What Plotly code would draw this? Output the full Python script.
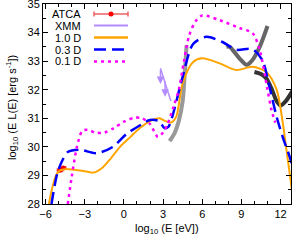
import plotly.graph_objects as go

# ---- data (log10 E [eV], log10 E L(E) [erg/s]) ----
atca_x = [-4.9, -4.65]
atca_y = [29.18, 29.26]
atca_xerr = [0.2, 0.2]

xmm_x = [2.8, 3.2, 3.6]
xmm_y = [32.75, 32.2, 31.6]
xmm_ul_x = [2.8, 3.15]
xmm_ul_top = [32.75, 32.35]
xmm_ul_bot = [32.2, 31.75]

d10_x = [-5.75, -5.5, -5.2, -4.9, -4.5, -3.8, -3.0, -2.3, -1.7, -1.0, -0.3, 0.5, 1.2, 2.0, 2.7,
         3.2, 3.6, 4.0, 4.5, 5.3, 6.0, 7.3, 8.6, 9.85, 10.9, 11.7, 12.15, 12.45, 12.8, 12.95]
d10_y = [28.0, 28.55, 29.0, 29.18, 29.22, 29.2, 29.15, 29.1, 29.25, 29.6, 30.0, 30.35, 30.65, 30.9, 31.0,
         30.9, 30.85, 31.05, 32.23, 32.97, 33.1, 32.93, 32.69, 32.8, 32.62, 32.0, 30.9, 29.9, 28.73, 28.2]

d03_x = [-5.55, -5.1, -4.7, -4.3, -3.4, -2.1, -0.85, 0.2, 1.4, 2.0, 2.7, 3.1, 3.4, 3.7, 4.5, 5.3,
         6.3, 7.55, 8.6, 9.85, 10.6, 11.15, 11.7, 12.2, 12.7, 13.1]
d03_y = [28.0, 29.08, 29.54, 29.82, 29.9, 29.78, 30.0, 30.45, 30.8, 30.94, 30.9, 30.66, 30.7, 31.05, 32.45, 33.6,
         33.85, 33.67, 33.4, 33.42, 33.04, 32.1, 31.05, 30.3, 29.65, 29.0]

d01_x = [-4.3, -4.0, -3.6, -3.2, -2.8, -2.2, -1.5, -0.8, 0.0, 0.8, 1.4, 2.0, 2.6, 3.0, 3.35, 3.8,
         4.2, 4.6, 5.0, 5.5, 6.0, 7.3, 8.85, 9.85, 10.4, 11.0, 11.3, 11.6]
d01_y = [28.0, 28.95, 30.0, 30.55, 30.6, 30.5, 30.5, 30.65, 30.88, 31.02, 31.0, 30.8, 30.35, 30.5, 30.8, 31.4,
         32.0, 33.0, 33.9, 34.4, 34.6, 34.44, 34.16, 33.98, 33.39, 32.0, 31.3, 30.85]

g1_x = [3.5, 3.9, 4.2, 4.5, 4.65, 4.8]
g1_y = [30.2, 30.5, 30.9, 31.6, 32.5, 33.55]

g2_x = [7.85, 8.1, 8.85, 9.4, 9.85, 10.4, 11.0]
g2_y = [33.5, 33.5, 33.1, 32.87, 33.04, 33.5, 34.23]

g3_x = [10.0, 10.5, 10.9, 11.3, 11.7, 12.0, 12.4, 12.9]
g3_y = [32.62, 32.55, 32.4, 32.05, 31.6, 31.45, 31.6, 31.95]

legend_labels = ["ATCA", "XMM", "1.0 D", "0.3 D", "0.1 D"]

x_ticks = [-6, -3, 0, 3, 6, 9, 12]
y_ticks = [28, 29, 30, 31, 32, 33, 34, 35]

# ---- styles ----
C_ATCA = "#FF0000"
C_ATCA_BAR = "#F06060"
C_XMM = "#B48CFF"
C_10 = "#FFA500"
C_03 = "#0000FF"
C_01 = "#FF00FF"

W, H = 294, 241
ML, MR, MT, MB = 43, 3, 4, 37
PW, PH = W - ML - MR, H - MT - MB

fig = go.Figure()

fig.add_trace(go.Scatter(x=g1_x, y=g1_y, mode="lines", line=dict(color="#999999", width=4, shape="spline", smoothing=0.8), showlegend=False))
fig.add_trace(go.Scatter(x=g2_x, y=g2_y, mode="lines", line=dict(color="#666666", width=4, shape="spline", smoothing=0.8), showlegend=False))
fig.add_trace(go.Scatter(x=g3_x, y=g3_y, mode="lines", line=dict(color="#333333", width=4, shape="spline", smoothing=0.8), showlegend=False))

fig.add_trace(go.Scatter(x=atca_x, y=atca_y, mode="markers",
                         marker=dict(color=C_ATCA, size=5),
                         error_x=dict(type="data", array=atca_xerr, color=C_ATCA_BAR, thickness=1.5, width=2),
                         showlegend=False))
fig.add_trace(go.Scatter(x=xmm_x, y=xmm_y, mode="lines", line=dict(color=C_XMM, width=1.5), showlegend=False))

fig.add_trace(go.Scatter(x=d10_x, y=d10_y, mode="lines", line=dict(color=C_10, width=2, shape="spline", smoothing=0.8), showlegend=False))
fig.add_trace(go.Scatter(x=d03_x, y=d03_y, mode="lines", line=dict(color=C_03, width=2.5, dash="12px,6px", shape="spline", smoothing=0.8), showlegend=False))
fig.add_trace(go.Scatter(x=d01_x, y=d01_y, mode="lines", line=dict(color=C_01, width=2.5, dash="3px,4px", shape="spline", smoothing=0.8), showlegend=False))

annotations = []
for x, yt, yb in zip(xmm_ul_x, xmm_ul_top, xmm_ul_bot):
    annotations.append(dict(x=x, y=yb, ax=x, ay=yt, xref="x", yref="y", axref="x", ayref="y",
                            showarrow=True, arrowhead=2, arrowsize=1, arrowwidth=1.5,
                            arrowcolor=C_XMM, text=""))

def px2x(px):
    return (px - ML) / PW

def py2y(py):
    return (MT + PH - py) / PH

rows_py = [14, 25.5, 37.5, 49.5, 61.5]
text_right = 83
s0, s1 = 94, 128
shapes = []
for lab, py in zip(legend_labels, rows_py):
    annotations.append(dict(x=px2x(text_right), y=py2y(py), xref="paper", yref="paper",
                            text=lab, showarrow=False, xanchor="right", yanchor="middle",
                            font=dict(size=11, color="black")))

# axis titles
annotations.append(dict(x=px2x(167), y=py2y(229), xref="paper", yref="paper", showarrow=False,
                        text="log<sub>10</sub> (E [eV])", xanchor="center", yanchor="middle",
                        font=dict(size=11, color="black")))
annotations.append(dict(x=px2x(12), y=py2y(108), xref="paper", yref="paper", showarrow=False,
                        text="log<sub>10</sub> (E L(E) [erg s<sup>-1</sup>])", textangle=-90,
                        xanchor="center", yanchor="middle", font=dict(size=11, color="black")))

# legend samples
py = rows_py[0]
shapes.append(dict(type="line", xref="paper", yref="paper", x0=px2x(s0), x1=px2x(s1), y0=py2y(py), y1=py2y(py),
                   line=dict(color=C_ATCA_BAR, width=1.5)))
for sx in (s0, s1):
    shapes.append(dict(type="line", xref="paper", yref="paper", x0=px2x(sx), x1=px2x(sx), y0=py2y(py - 2.5), y1=py2y(py + 2.5),
                       line=dict(color=C_ATCA_BAR, width=1.5)))
cx = (s0 + s1) / 2
shapes.append(dict(type="circle", xref="paper", yref="paper", x0=px2x(cx - 2.5), x1=px2x(cx + 2.5),
                   y0=py2y(py + 2.5), y1=py2y(py - 2.5), fillcolor=C_ATCA, line=dict(color=C_ATCA, width=0)))
sample_styles = [(C_XMM, 2, "solid"), (C_10, 2.5, "solid"), (C_03, 2.5, "12px,6px"), (C_01, 2.5, "3px,4px")]
for (col, wd, ds), py in zip(sample_styles, rows_py[1:]):
    shapes.append(dict(type="line", xref="paper", yref="paper", x0=px2x(s0), x1=px2x(s1), y0=py2y(py), y1=py2y(py),
                       line=dict(color=col, width=wd, dash=ds)))

axis_common = dict(showline=True, linecolor="black", linewidth=1, mirror="allticks",
                   ticks="inside", ticklen=5, tickcolor="black", showgrid=False, zeroline=False,
                   tickfont=dict(size=11, color="black"), automargin=False, ticklabeloverflow="allow")

fig.update_layout(
    width=W, height=H,
    margin=dict(l=ML, r=MR, t=MT, b=MB),
    paper_bgcolor="white", plot_bgcolor="white",
    font=dict(family="Liberation Sans, Arial, sans-serif", size=11, color="black"),
    showlegend=False,
    annotations=annotations,
    shapes=shapes,
    xaxis=dict(range=[-6.2, 12.8], tickvals=x_ticks, ticktext=[str(v).replace("-", "−") for v in x_ticks],
               minor=dict(ticks="inside", ticklen=3, dtick=1, tick0=0, tickcolor="black"),
               **axis_common),
    yaxis=dict(range=[28, 35], tickvals=y_ticks,
               minor=dict(ticks="inside", ticklen=3, dtick=0.5, tick0=0, tickcolor="black"),
               **axis_common),
)

fig.write_html("out.html", config={"displayModeBar": False},
               post_script="document.body.style.margin='0px';document.body.style.overflow='hidden';")
